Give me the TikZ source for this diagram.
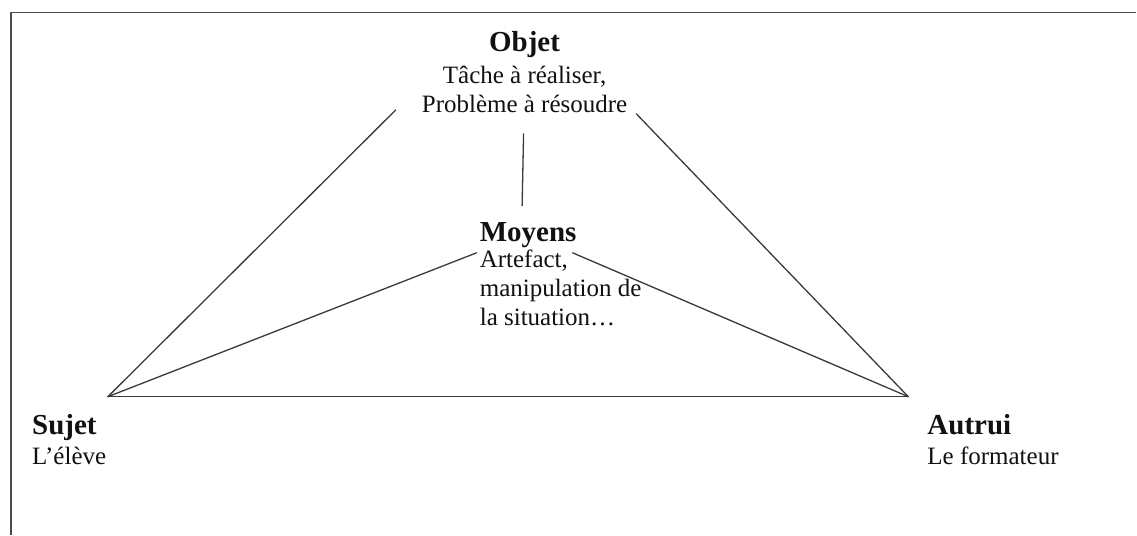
\documentclass[tikz,border=0pt]{standalone}
\usepackage{fontspec}
\setmainfont{Liberation Serif}
\usetikzlibrary{calc}
\definecolor{triInk}{HTML}{111111}
\definecolor{triLine}{HTML}{3A3A3A}
\definecolor{triFrame}{HTML}{4A4A4A}
\begin{document}
\begin{tikzpicture}[x=1pt,y=-1pt,line cap=round,line join=round]
\path[fill=white] (0,0) rectangle (1137,535);
\tikzset{frame/.style={draw=triFrame,line width=1.8pt,line cap=butt},edge/.style={draw=triLine,line width=1.3pt},titre/.style={inner sep=0pt,text=triInk,font=\fontsize{29}{34}\selectfont\bfseries},texte/.style={inner sep=0pt,text=triInk,font=\fontsize{25}{29}\selectfont}}
\draw[frame] (11,535) -- (11,12.5) -- (1137,12.5);
\coordinate (sujet) at (108,397); \coordinate (autrui) at (909,397);
\node[titre,anchor=base] (objet) at (525,52) {Objet};
\node[texte,anchor=north,align=center] (objdesc) at (525,66) {Tâche à réaliser,\\Problème à résoudre};
\node[titre,anchor=base west] (moyens) at (480,242) {Moyens};
\node[texte,anchor=north west,align=left] (moydesc) at (480,250) {Artefact,\\manipulation de\\la situation…};
\node[titre,anchor=base west] (sujtitre) at (32,435) {Sujet}; \node[texte,anchor=base west] (sujdesc) at (32,465) {L’élève};
\node[titre,anchor=base west] (autitre) at (928,435) {Autrui}; \node[texte,anchor=base west] (audesc) at (928,465) {Le formateur};
\draw[edge] (sujet) -- (autrui);
\draw[edge] (sujet) -- ($(objdesc.south west)+(-26,-3)$); \draw[edge] (autrui) -- ($(objdesc.south east)+(9,1)$);
\draw[edge] ($(objdesc.south)+(-1,21)$) -- ($(moyens.north)+(-6,-17)$);
\draw[edge] (sujet) -- ($(moyens.base west)+(-3,11)$); \draw[edge] (autrui) -- ($(moyens.base east)+(-4,11)$);
\end{tikzpicture}
\end{document}
